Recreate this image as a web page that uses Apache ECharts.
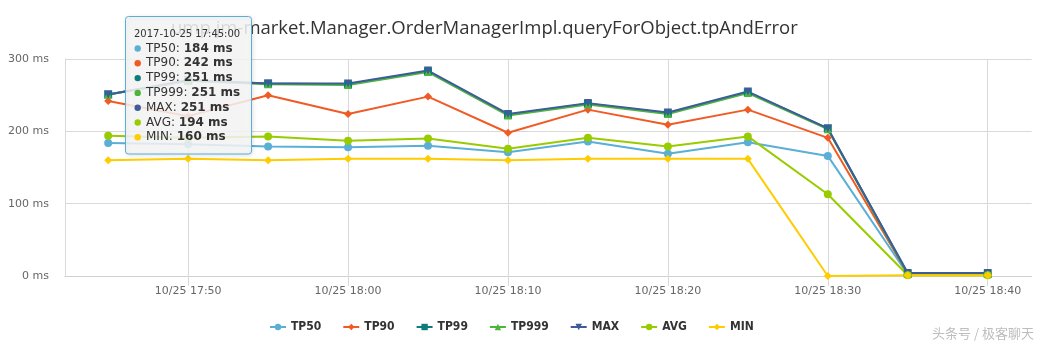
<!DOCTYPE html>
<html><head><meta charset="utf-8">
<script src="https://cdn.jsdelivr.net/npm/echarts@6/dist/echarts.min.js"></script>
<style>html,body{margin:0;padding:0;background:#fff}#c{width:1042px;height:346px}</style>
</head><body><div id="c"></div>
<script>
// ---- data ----
const titleText = 'ump.jm-market.Manager.OrderManagerImpl.queryForObject.tpAndError';
const dateText = '2017-10-25';
const times = ['17:45','17:50','17:55','18:00','18:05','18:10','18:15','18:20','18:25','18:30','18:35','18:40'];
const tickTimes = ['17:50','18:00','18:10','18:20','18:30','18:40'];
const tickLabels = ['10/25 17:50','10/25 18:00','10/25 18:10','10/25 18:20','10/25 18:30','10/25 18:40'];
const seriesNames = ['TP50','TP90','TP99','TP999','MAX','AVG','MIN'];
const TP50  = [184,182,179,178,180,171,186,169,185,166,2,2];
const TP90  = [242,221,250,224,248,198,230,209,230,191,3,3];
const TP99  = [251,270,266,265,283,223,238,225,254,204,3,3];
const TP999 = [251,270,265,264,282,222,237,224,253,203,3,3];
const MAX   = [251,271,266,266,284,224,239,226,255,204,4,4];
const AVG   = [194,191,193,187,190,176,191,179,193,113,1,1];
const MIN   = [160,162,160,162,162,160,162,162,162,0,1,1];
const watermark = '头条号 / 极客聊天';

// ---- styles ----
const colors = ['#5aafd6','#f15a24','#0e7c7b','#4db53c','#3e5b9a','#99cc00','#ffcc00'];
const symbols = ['circle','diamond','rect','triangle','path://M0,0 L10,0 L5,10 Z','circle','diamond'];
const values = [TP50,TP90,TP99,TP999,MAX,AVG,MIN];
const toMin = t => { const [h,m] = t.split(':').map(Number); return h*60+m-1020; };
const tickVals = tickTimes.map(toMin);
const FONT = 'DejaVu Sans';

const chart = echarts.init(document.getElementById('c'), null, {renderer:'canvas'});

const series = seriesNames.map((n,k)=>({
  name:n, type:'line', data: times.map((t,i)=>[toMin(t), values[k][i]]),
  symbol: symbols[k], symbolSize: 8, showAllSymbol:true,
  itemStyle:{color:colors[k]}, lineStyle:{width:2, color:colors[k]},
  emphasis:{disabled:true}
}));

// tooltip-like box drawn as graphic (shown at first point)
const tipX = 125.5, tipY = 16.5, lineH = 14.8;
const ZT = 1000;
const tipEls = [{
  type:'rect', z:ZT, shape:{x:tipX, y:tipY, width:126, height:137.5, r:3},
  style:{fill:'rgba(247,247,247,0.85)', stroke:colors[0], lineWidth:1,
    shadowBlur:4, shadowColor:'rgba(0,0,0,0.12)', shadowOffsetX:1, shadowOffsetY:1}
},{
  type:'text', z:ZT+1, x:134, y:34,
  style:{text: dateText+' '+times[0]+':00', fontSize:10, fontFamily:FONT, fill:'#333', verticalAlign:'middle'}
}];
seriesNames.forEach((n,k)=>{
  const y = 48.5 + k*lineH;
  tipEls.push({type:'circle', z:ZT+1, shape:{cx:137.7, cy:y, r:3.2}, style:{fill:colors[k]}});
  tipEls.push({type:'text', z:ZT+1, x:146, y:y, style:{
    text:'{n|'+n+': }{v|'+values[k][0]+' ms}', verticalAlign:'middle',
    rich:{n:{fontSize:12, fontFamily:FONT, fill:'#333'}, v:{fontSize:12, fontFamily:FONT, fontWeight:'bold', fill:'#333'}}
  }});
});

chart.setOption({
  animation:false,
  backgroundColor:'#fff',
  title:{text:titleText, left:166, top:14, textStyle:{fontSize:18.5, fontWeight:'normal', color:'#333', fontFamily:'Open Sans'}},
  grid:{left:65, right:10.3, top:59, bottom:70, containLabel:false},
  legend:{bottom:8, left:264, itemWidth:16, itemHeight:8, itemGap:21,
    textStyle:{fontSize:12, fontWeight:'bold', color:'#333', fontFamily:'DejaVu Sans Condensed, DejaVu Sans'}},
  xAxis:{type:'value', min:42.3, max:102.75,
    axisLine:{show:true, lineStyle:{color:'#d0d0d0'}},
    axisTick:{show:true, length:10, customValues:tickVals, lineStyle:{color:'#d9d9d9'}},
    axisLabel:{customValues:tickVals, margin:10, fontSize:11, fontFamily:FONT, color:'#666',
      formatter: v => tickLabels[tickVals.indexOf(v)] || ''},
    splitLine:{show:true, lineStyle:{color:'#d9d9d9'}}
  },
  yAxis:{type:'value', min:0, max:300, interval:100,
    axisLine:{show:true, lineStyle:{color:'#d9d9d9'}},
    axisTick:{show:false},
    axisLabel:{formatter:'{value} ms', margin:16, fontSize:11, fontFamily:FONT, color:'#666'},
    splitLine:{show:true, lineStyle:{color:'#d9d9d9'}}
  },
  series: series,
  graphic:[
    {type:'group', z:ZT, children:tipEls},
    {type:'text', z:ZT, right:8, top:327, style:{text:watermark, fontSize:13, fontFamily:'Noto Sans CJK SC', fill:'#bdbdbd'}}
  ]
});
</script></body></html>
